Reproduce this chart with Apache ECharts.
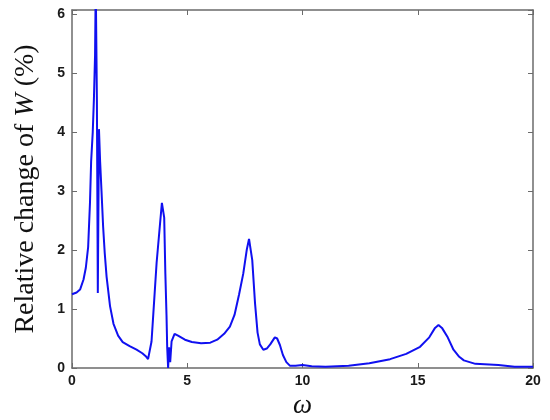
<!DOCTYPE html>
<html>
<head>
<meta charset="utf-8">
<script src="https://cdn.jsdelivr.net/npm/echarts@6/dist/echarts.min.js"></script>
<style>
  html, body { margin: 0; padding: 0; background: #fff; }
  #chart { width: 550px; height: 420px; }
</style>
</head>
<body>
<div id="chart"></div>
<script>
// frequency values
const omega = [
  0, 0.2, 0.35, 0.5, 0.6, 0.7, 0.78, 0.83, 0.9, 0.95, 1.0, 1.03, 1.06, 1.08, 1.12,
  1.17, 1.22, 1.28, 1.35, 1.42, 1.5, 1.65, 1.8, 2.0, 2.2, 2.5, 2.8, 3.05, 3.2, 3.3,
  3.38, 3.45, 3.53, 3.67, 3.82, 3.9, 3.95, 4.0, 4.05, 4.1, 4.13, 4.17, 4.21, 4.26, 4.32,
  4.45, 4.6, 4.9, 5.2, 5.6, 6.0, 6.3, 6.6, 6.85, 7.05, 7.25, 7.43, 7.58, 7.68, 7.74,
  7.82, 7.94, 8.05, 8.15, 8.3, 8.45, 8.6, 8.8, 8.9, 9.02, 9.15, 9.3, 9.45, 9.7, 10.0,
  10.4, 11.0, 12.0, 12.9, 13.8, 14.5, 15.1, 15.5, 15.75, 15.9, 16.05, 16.3, 16.55, 16.8, 17.0,
  17.5, 18.5, 19.2, 20
]
const change = [
  1.25, 1.28, 1.33, 1.5, 1.7, 2.05, 2.8, 3.5, 4.0, 4.55, 5.3, 6.5, 6.5, 4.55, 1.27,
  4.05, 3.5, 3.0, 2.4, 1.95, 1.55, 1.05, 0.75, 0.55, 0.44, 0.37, 0.31, 0.25, 0.2, 0.15,
  0.15, 0.45, 0.93, 1.78, 2.45, 2.8, 2.8, 2.55, 1.6, 0.9, 0.35, 0.0, 0.35, 0.1, 0.45,
  0.58, 0.55, 0.48, 0.44, 0.42, 0.43, 0.48, 0.58, 0.7, 0.9, 1.25, 1.6, 2.0, 2.19, 2.19,
  1.83, 1.1, 0.6, 0.4, 0.31, 0.33, 0.4, 0.52, 0.5, 0.39, 0.22, 0.1, 0.04, 0.04, 0.05,
  0.03, 0.02, 0.04, 0.08, 0.15, 0.24, 0.36, 0.52, 0.68, 0.73, 0.68, 0.52, 0.31, 0.19, 0.13,
  0.07, 0.05, 0.02, 0.02
]
const xTicks = [0, 5, 10, 15, 20]
const yTicks = [0, 1, 2, 3, 4, 5, 6]

const frameColor = '#6b6b6b'
const labelFont = { fontFamily: 'Liberation Sans', fontWeight: 'bold', fontSize: 14, color: '#1a1a1a' }

const chart = echarts.init(document.getElementById('chart'))

const tickOnly = {
  axisLine: { show: true, onZero: false, lineStyle: { color: frameColor, width: 1.5 } },
  axisTick: { show: true, inside: true, length: 5, lineStyle: { color: frameColor } },
  axisLabel: { show: false },
  splitLine: { show: false }
}

chart.setOption({
  animation: false,
  backgroundColor: '#fff',
  grid: { left: 72, right: 17, top: 10, bottom: 52, containLabel: false, outerBoundsMode: 'none' },
  xAxis: [
    {
      type: 'value',
      min: xTicks[0],
      max: xTicks[xTicks.length - 1],
      interval: 5,
      name: 'ω',
      nameLocation: 'middle',
      nameGap: 22,
      nameTextStyle: { fontFamily: 'Liberation Serif', fontStyle: 'italic', fontSize: 27, color: '#111' },
      axisLine: { onZero: false, lineStyle: { color: frameColor, width: 1.5 } },
      axisTick: { inside: true, length: 5, lineStyle: { color: frameColor } },
      axisLabel: Object.assign({ margin: 6 }, labelFont),
      splitLine: { show: false }
    },
    Object.assign({ type: 'value', position: 'top', min: 0, max: 20, interval: 5 }, tickOnly)
  ],
  yAxis: [
    {
      type: 'value',
      min: yTicks[0],
      max: 6.07,
      interval: 1,
      name: 'Relative change of {i|W} (%)',
      nameLocation: 'middle',
      nameGap: 32,
      nameRotate: 90,
      nameTextStyle: {
        fontFamily: 'Liberation Serif', fontSize: 28, color: '#111',
        rich: { i: { fontFamily: 'Liberation Serif', fontStyle: 'italic', fontSize: 28, color: '#111' } }
      },
      axisLine: { show: true, onZero: false, lineStyle: { color: frameColor, width: 1.5 } },
      axisTick: { show: true, inside: true, length: 5, lineStyle: { color: frameColor } },
      axisLabel: Object.assign({
        margin: 7,
        formatter: v => (yTicks.indexOf(v) >= 0 ? String(v) : '')
      }, labelFont),
      splitLine: { show: false }
    },
    Object.assign({ type: 'value', position: 'right', min: 0, max: 6.07, interval: 1 }, tickOnly)
  ],
  series: [
    {
      type: 'line',
      data: omega.map((w, i) => [w, change[i]]),
      showSymbol: false,
      clip: true,
      smooth: false,
      lineStyle: { color: '#1010f0', width: 2 }
    }
  ]
})
</script>
</body>
</html>
